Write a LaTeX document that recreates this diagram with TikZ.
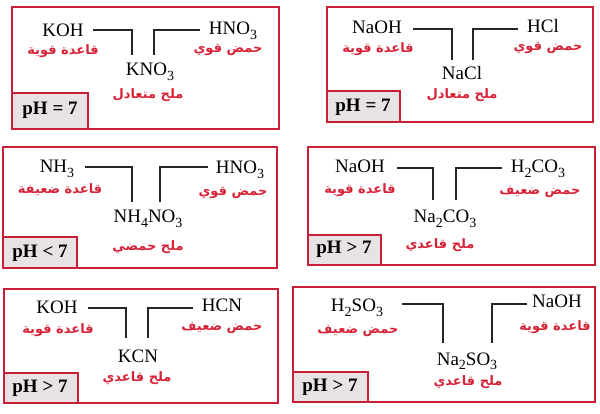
\documentclass[tikz,border=0pt]{standalone}
\usepackage{fontspec}
\setmainfont{Liberation Serif}
\newfontfamily\arabicfont[Script=Arabic]{DejaVu Sans}
\TeXXeTstate=1
\definecolor{bred}{RGB}{200,30,55}
\definecolor{tred}{RGB}{215,35,55}
\definecolor{phfill}{RGB}{232,226,228}
\tikzset{
 panel/.style={draw=bred, line width=1.6pt},
 phbox/.style={draw=bred, fill=phfill, line width=1.6pt},
 chem/.style={font=\fontsize{19}{19}\selectfont, inner sep=0pt, anchor=base},
 artext/.style={text=tred, font=\arabicfont\bfseries\fontsize{13}{13}\selectfont, inner sep=0pt},
 phtext/.style={font=\bfseries\fontsize{19}{19}\selectfont, inner sep=0pt},
 conn/.style={line width=1.5pt, black!85},
}
\newcommand\artx[1]{\beginR #1\endR}
\newcommand\sbs[1]{\raisebox{-0.26em}{\fontsize{14}{14}\selectfont #1}}
\begin{document}
\begin{tikzpicture}[x=1pt,y=-1pt]
\useasboundingbox (0,0) rectangle (600,414);
\fill[white] (0,0) rectangle (600,414);
% ---------- panel 1
\draw[panel] (12,7) rectangle (279,129);
\draw[phbox] (12,93) rectangle (88,129);
\node[phtext] (ph1) at (50,110) {pH = 7};
\node[chem] (koh1) at (63,37) {KOH};
\node[chem] (hno1) at (233,35) {HNO\sbs{3}};
\node[chem] (kno1) at (150,76) {KNO\sbs{3}};
\node[artext] (b1) at (63,51) {\artx{قاعدة  قوية}};
\node[artext] (a1) at (228,50) {\artx{حمض قوي}};
\node[artext] (s1) at (148,95) {\artx{ملح  متعادل}};
\coordinate (l1s) at (93,30); \coordinate (l1e) at (132,55);
\coordinate (r1s) at (200,30); \coordinate (r1e) at (154,55);
\draw[conn] (l1s) -| (l1e);
\draw[conn] (r1s) -| (r1e);
% ---------- panel 2
\draw[panel] (327,7) rectangle (593,122);
\draw[phbox] (327,91) rectangle (400,122);
\node[phtext] (ph2) at (363,107) {pH = 7};
\node[chem] (naoh2) at (377,34) {NaOH};
\node[chem] (hcl2) at (543,33) {HCl};
\node[chem] (nacl2) at (462,80) {NaCl};
\node[artext] (b2) at (378,49) {\artx{قاعدة  قوية}};
\node[artext] (a2) at (548,48) {\artx{حمض قوي}};
\node[artext] (s2) at (462,95) {\artx{ملح  متعادل}};
\coordinate (l2s) at (413,29); \coordinate (l2e) at (452,60);
\coordinate (r2s) at (518,29); \coordinate (r2e) at (473,60);
\draw[conn] (l2s) -| (l2e);
\draw[conn] (r2s) -| (r2e);
% ---------- panel 3
\draw[panel] (3,147) rectangle (277,268);
\draw[phbox] (3,237) rectangle (77,268);
\node[phtext] (ph3) at (40,253) {pH < 7};
\node[chem] (nh3) at (57,173) {NH\sbs{3}};
\node[chem] (hno3) at (240,174) {HNO\sbs{3}};
\node[chem] (nhno3) at (148,223) {NH\sbs{4}NO\sbs{3}};
\node[artext] (b3) at (60,190) {\artx{قاعدة  ضعيفة}};
\node[artext] (a3) at (233,193) {\artx{حمض قوي}};
\node[artext] (s3) at (148,247) {\artx{ملح حمضي}};
\coordinate (l3s) at (85,167); \coordinate (l3e) at (132,202);
\coordinate (r3s) at (208,167); \coordinate (r3e) at (160,202);
\draw[conn] (l3s) -| (l3e);
\draw[conn] (r3s) -| (r3e);
% ---------- panel 4
\draw[panel] (308,147) rectangle (595,265);
\draw[phbox] (308,235) rectangle (381,265);
\node[phtext] (ph4) at (344,249) {pH > 7};
\node[chem] (naoh4) at (360,173) {NaOH};
\node[chem] (hco4) at (538,173) {H\sbs{2}CO\sbs{3}};
\node[chem] (naco4) at (445,223) {Na\sbs{2}CO\sbs{3}};
\node[artext] (b4) at (360,190) {\artx{قاعدة  قوية}};
\node[artext] (a4) at (540,192) {\artx{حمض ضعيف}};
\node[artext] (s4) at (440,245) {\artx{ملح قاعدي}};
\coordinate (l4s) at (397,168); \coordinate (l4e) at (433,200);
\coordinate (r4s) at (502,168); \coordinate (r4e) at (456,200);
\draw[conn] (l4s) -| (l4e);
\draw[conn] (r4s) -| (r4e);
% ---------- panel 5
\draw[panel] (4,289) rectangle (278,403);
\draw[phbox] (4,373) rectangle (78,403);
\node[phtext] (ph5) at (40,388) {pH > 7};
\node[chem] (koh5) at (57,313) {KOH};
\node[chem] (hcn5) at (222,312) {HCN};
\node[chem] (kcn5) at (138,362) {KCN};
\node[artext] (b5) at (58,330) {\artx{قاعدة  قوية}};
\node[artext] (a5) at (222,328) {\artx{حمض ضعيف}};
\node[artext] (s5) at (137,378) {\artx{ملح قاعدي}};
\coordinate (l5s) at (88,308); \coordinate (l5e) at (126,338);
\coordinate (r5s) at (193,308); \coordinate (r5e) at (148,338);
\draw[conn] (l5s) -| (l5e);
\draw[conn] (r5s) -| (r5e);
% ---------- panel 6
\draw[panel] (293,287) rectangle (595,402);
\draw[phbox] (293,372) rectangle (368,402);
\node[phtext] (ph6) at (330,387) {pH > 7};
\node[chem] (hso6) at (357,312) {H\sbs{2}SO\sbs{3}};
\node[chem] (naoh6) at (557,308) {NaOH};
\node[chem] (naso6) at (467,365) {Na\sbs{2}SO\sbs{3}};
\node[artext] (a6) at (358,331) {\artx{حمض ضعيف}};
\node[artext] (b6) at (555,327) {\artx{قاعدة  قوية}};
\node[artext] (s6) at (468,382) {\artx{ملح قاعدي}};
\coordinate (l6s) at (402,304); \coordinate (l6e) at (443,343);
\coordinate (r6s) at (527,304); \coordinate (r6e) at (492,343);
\draw[conn] (l6s) -| (l6e);
\draw[conn] (r6s) -| (r6e);
\end{tikzpicture}
\end{document}
